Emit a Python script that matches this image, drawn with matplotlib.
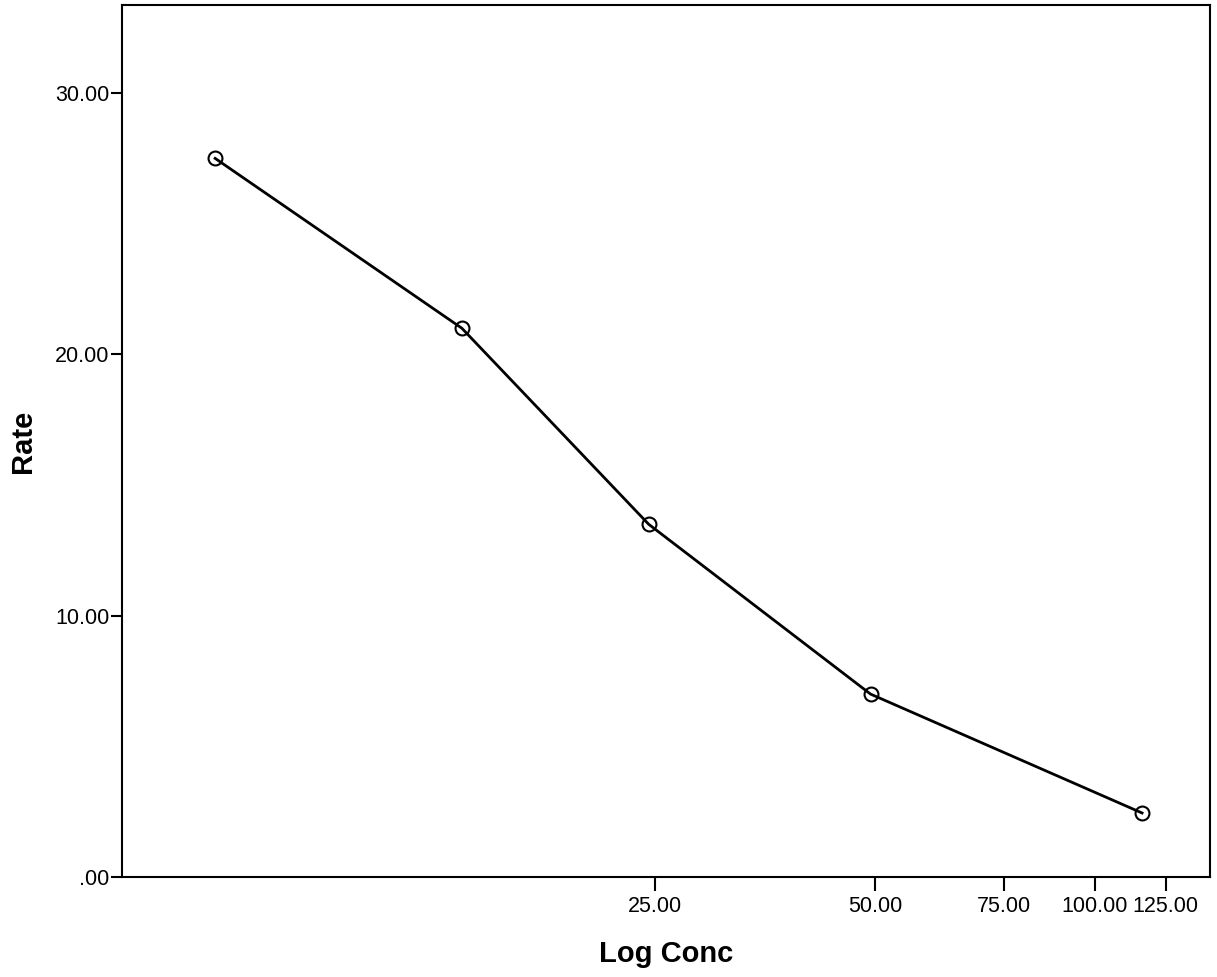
import matplotlib
matplotlib.use("Agg")
from matplotlib import pyplot as plt
from matplotlib.ticker import FixedLocator, FuncFormatter, NullLocator

plt.rcParams['font.family'] = ['Liberation Sans', 'DejaVu Sans']

# data
conc = [6.25, 13.6, 24.5, 49.3, 116.0]
rate = [27.5, 21.0, 13.5, 7.0, 2.45]
x_ticks = [25, 50, 75, 100, 125]
y_ticks = [0, 10, 20, 30]

fig = plt.figure(figsize=(12.17, 9.77), dpi=100)
ax = fig.add_axes([122/1217, 100/977, (1210-122)/1217, (877-5)/977])

ax.plot(conc, rate, color="black", linewidth=2.0, marker="o", markersize=10,
        markerfacecolor="none", markeredgecolor="black", markeredgewidth=1.5)

ax.set_xscale("log")
ax.set_xlim(4.66, 143.7)
ax.set_ylim(0, 33.37)
ax.xaxis.set_major_locator(FixedLocator(x_ticks))
ax.xaxis.set_minor_locator(NullLocator())
ax.yaxis.set_major_locator(FixedLocator(y_ticks))


def fmt(v, pos):
    s = "%.2f" % v
    if s.startswith("0"):
        s = s[1:]
    return s


ax.xaxis.set_major_formatter(FuncFormatter(fmt))
ax.yaxis.set_major_formatter(FuncFormatter(fmt))

for s in ax.spines.values():
    s.set_linewidth(1.5)
ax.tick_params(axis="x", direction="out", length=10, width=1.5, labelsize=15.5, pad=4)
ax.tick_params(axis="y", direction="out", length=8, width=1.5, labelsize=15.5, pad=1)

ax.set_xlabel("Log Conc", fontsize=21, fontweight="bold", labelpad=16)
ax.set_ylabel("Rate", fontsize=21, fontweight="bold", labelpad=13)

fig.savefig("out.png", dpi=100)
